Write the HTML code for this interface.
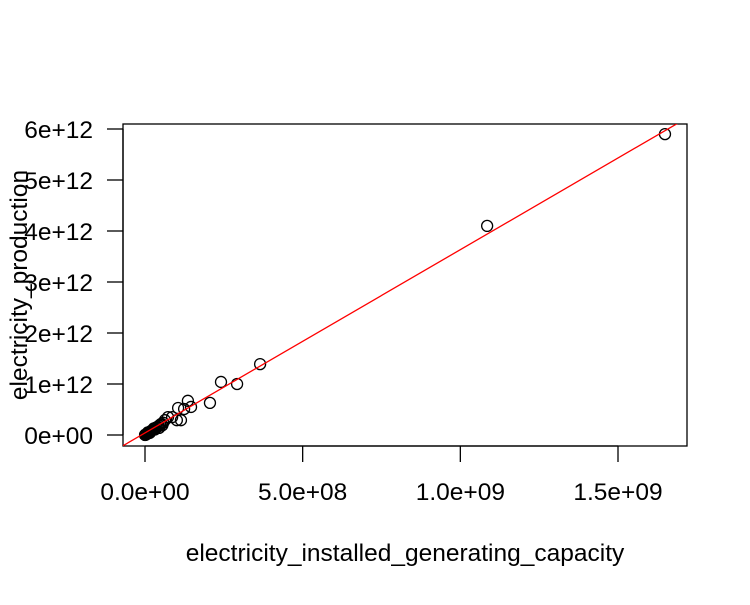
<!DOCTYPE html>
<html><head><meta charset="utf-8"><style>
body{margin:0;background:#fff;}
svg text{font-family:"Liberation Sans",sans-serif;font-size:24.5px;fill:#000;}
</style></head><body>
<svg width="750" height="600">
<rect x="123" y="124" width="564" height="322" fill="none" stroke="#000" stroke-width="1.3"/>
<g id="xaxis"></g>
<g id="yaxis"></g>
<g id="pts"></g>
<line id="fit" stroke="#ff0000" stroke-width="1.3"/>
<text x="405" y="561" text-anchor="middle">electricity_installed_generating_capacity</text>
<text x="0" y="0" text-anchor="middle" transform="translate(27,285) rotate(-90)">electricity_production</text>
</svg>
<script>
const xCap=[1.649e9,1.085e9,3.65e8,2.41e8,2.92e8,2.06e8,1.36e8,1.46e8,1.24e8,1.05e8,1.14e8,1.01e8,8.6e7,7.3e7,6.3e7,
5.8e7,5.2e7,4.8e7,4.4e7,4.0e7,3.6e7,3.3e7,3.0e7,2.7e7,2.5e7,2.2e7,2.0e7,1.8e7,1.6e7,1.4e7,1.2e7,1.0e7,8e6,6e6,5e6,4e6,3e6,2e6,1e6,5e5,2e5,3.2e7,2.8e7,1.5e7,9e6,4.5e7,5.5e7];
const yProd=[5.9e12,4.1e12,1.39e12,1.04e12,1.0e12,6.3e11,6.7e11,5.5e11,5.1e11,5.3e11,2.9e11,2.9e11,3.5e11,3.5e11,2.9e11,
2.4e11,2.2e11,2.0e11,1.8e11,1.6e11,1.5e11,1.3e11,1.2e11,1.1e11,1.0e11,9e10,8e10,7e10,6e10,5e10,4.5e10,4e10,3e10,2.5e10,2e10,1.5e10,1e10,8e9,4e9,2e9,1e9,1.1e11,1.3e11,4e10,5e10,1.4e11,1.9e11];
const xTicks=[0,5e8,1e9,1.5e9];
const xTickLabels=["0.0e+00","5.0e+08","1.0e+09","1.5e+09"];
const yTicks=[0,1e12,2e12,3e12,4e12,5e12,6e12];
const yTickLabels=["0e+00","1e+12","2e+12","3e+12","4e+12","5e+12","6e+12"];
const fitIntercept=4e10, fitSlope=3594;
const NS="http://www.w3.org/2000/svg";
const X=v=>145+v*473/1.5e9, Y=v=>435-v*306/6e12;
function mk(t,a,p){const e=document.createElementNS(NS,t);for(const k in a)e.setAttribute(k,a[k]);p.appendChild(e);return e;}
const xa=document.getElementById('xaxis'),ya=document.getElementById('yaxis'),pg=document.getElementById('pts');
mk('line',{x1:X(0),x2:X(1.5e9),y1:446,y2:446,stroke:'#000','stroke-width':1.3},xa);
xTicks.forEach((v,i)=>{
 const l=mk('line',{x1:X(v),x2:X(v),y1:446,y2:462,stroke:'#000','stroke-width':1.3},xa);
 
 
 const t=mk('text',{x:X(v),y:500,'text-anchor':'middle'},xa);t.textContent=xTickLabels[i];
 
 
});
mk('line',{x1:123,x2:123,y1:Y(0),y2:Y(6e12),stroke:'#000','stroke-width':1.3},ya);
yTicks.forEach((v,i)=>{
 const l=mk('line',{x1:107,x2:123,y1:Y(v),y2:Y(v),stroke:'#000','stroke-width':1.3},ya);
 
 
 const t=mk('text',{x:93,y:Y(v)+9,'text-anchor':'end'},ya);t.textContent=yTickLabels[i];
 
 
});
xCap.forEach((v,i)=>{
 const c=mk('circle',{cx:X(v),cy:Y(yProd[i]),r:5.5,fill:'none',stroke:'#000','stroke-width':1.3},pg);
 
 
});
const f=document.getElementById('fit');
const x0=-7e7,x1=1.72e9;
f.setAttribute('x1',X(x0));f.setAttribute('y1',Y(fitIntercept+fitSlope*x0));
f.setAttribute('x2',X(x1));f.setAttribute('y2',Y(fitIntercept+fitSlope*x1));
f.setAttribute('clip-path','url(#clip)');
const d=mk('defs',{},document.querySelector('svg'));const cp=mk('clipPath',{id:'clip'},d);mk('rect',{x:123,y:124,width:564,height:322},cp);
</script>
</body></html>
